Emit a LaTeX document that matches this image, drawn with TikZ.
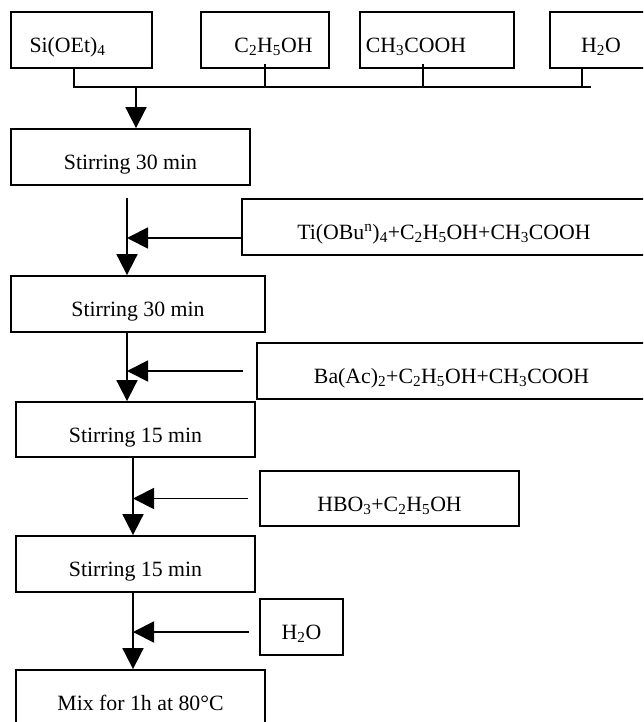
\documentclass[tikz,border=0pt]{standalone}
\usepackage{fontspec}
\setmainfont{Liberation Serif}
\usetikzlibrary{positioning, arrows.meta, calc}

\begin{document}
\begin{tikzpicture}[
  x=1pt, y=-1pt,
  font=\fontsize{21.8pt}{26pt}\selectfont,
  box/.style={draw, line width=1.8pt, inner sep=0pt, minimum height=56pt,
    text height=27pt, text depth=2pt},
  txt/.style={inner sep=0pt, text height=27pt, text depth=2pt},
  line/.style={line width=1.8pt},
  arrow/.style={line width=1.8pt, -{Triangle[length=21pt, width=21pt]}},
]
  \useasboundingbox (0,0) rectangle (643,722);
  \clip (0,0) rectangle (643,722);

  \node[box, minimum width=141pt,
    label={[txt, xshift=-14pt]center:Si(OEt)\textsubscript{4}}] (si)   at (81.5,40) {};
  \node[box, minimum width=128pt,
    label={[txt, xshift=8.5pt]center:C\textsubscript{2}H\textsubscript{5}OH}] (eth)  at (265,40) {};
  \node[box, minimum width=154pt,
    label={[txt, xshift=-21pt]center:CH\textsubscript{3}COOH}] (acid) at (437,40) {};
  \node[box, minimum width=102pt,
    label={[txt]center:H\textsubscript{2}O}] (wat)  at (601,40) {};

  \node[box, minimum width=239pt] (stir1) at (130.5,157) {Stirring 30 min};
  \node[box, minimum width=404pt] (ti)    at (444,227)
    {Ti(OBu\textsuperscript{n})\textsubscript{4}+C\textsubscript{2}H\textsubscript{5}OH+CH\textsubscript{3}COOH};
  \node[box, minimum width=254pt] (stir2) at (138,304) {Stirring 30 min};
  \node[box, minimum width=389pt] (ba)    at (451.5,371)
    {Ba(Ac)\textsubscript{2}+C\textsubscript{2}H\textsubscript{5}OH+CH\textsubscript{3}COOH};
  \node[box, minimum width=239pt, minimum height=55pt] (stir3) at (135.5,429.5) {Stirring 15 min};
  \node[box, minimum width=259pt, minimum height=55pt] (hbo)   at (389.5,498.5)
    {HBO\textsubscript{3}+C\textsubscript{2}H\textsubscript{5}OH};
  \node[box, minimum width=239pt] (stir4) at (135.5,564) {Stirring 15 min};
  \node[box, minimum width=83pt]  (h2o)   at (301.5,627) {H\textsubscript{2}O};
  \node[box, minimum width=249pt] (mix)   at (140.5,698) {Mix for 1h at 80°C};

  \coordinate (busL) at (74,87);
  \coordinate (busR) at (591,87);
  \coordinate (s3)   at (423,87);
  \coordinate (s4)   at (582,87);
  \draw[line] (busL |- si.south) -- (busL) -- (busR);
  \draw[line] ($(eth.south)+(0,-5)$) -- (eth.south |- busL);
  \draw[line] ($(s3 |- acid.south)+(0,-5)$) -- (s3);
  \draw[line] (s4 |- wat.south) -- (s4);

  \coordinate (drop) at (136,87);
  \coordinate (v1)   at (127,198);
  \coordinate (v3)   at (133,0);
  \draw[arrow] (drop) -- (drop |- stir1.north);
  \draw[arrow] (v1) -- (v1 |- stir2.north);
  \draw[arrow] (v1 |- stir2.south) -- (v1 |- stir3.north);
  \draw[arrow] (v3 |- stir3.south) -- (v3 |- stir4.north);
  \draw[arrow] (v3 |- stir4.south) -- (v3 |- mix.north);

  \coordinate (h1) at (243,238);
  \coordinate (h4) at (249,632);
  \draw[arrow] (h1) -- (h1 -| v1);
  \draw[arrow] ([xshift=-13pt]ba.west) -- (ba.west -| v1);
  \draw[arrow] ([xshift=-11pt]hbo.west) -- (hbo.west -| v3);
  \draw[arrow] (h4) -- (h4 -| v3);
\end{tikzpicture}
\end{document}
